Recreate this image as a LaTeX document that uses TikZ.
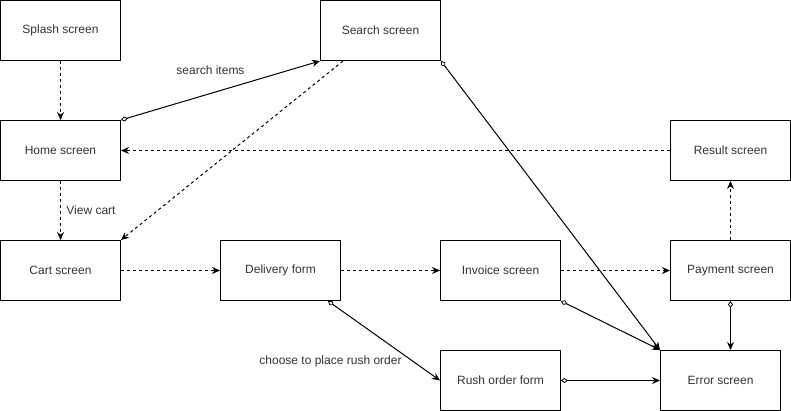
\documentclass[tikz,border=0pt]{standalone}
\usepackage{fontspec}
\setmainfont{Liberation Sans}
\usetikzlibrary{arrows.meta}
\begin{document}
\begin{tikzpicture}[x=1pt,y=-1pt,
  box/.style={draw=black, line width=1pt, minimum width=120pt, minimum height=60pt, inner sep=0pt, font=\fontsize{12pt}{14pt}\selectfont, text=black!80},
  lbl/.style={font=\fontsize{12pt}{14pt}\selectfont, text=black!80, inner sep=0pt},
  dashedflow/.style={line width=1pt, dash pattern=on 3pt off 3pt, -{Stealth[length=8pt,width=7pt]}},
  solidflow/.style={line width=1pt, {Diamond[open,length=7pt,width=5pt,line width=0.8pt]}-{Stealth[length=8pt,width=7pt]}}
]
\useasboundingbox (0,0) rectangle (791,411);
\node[box] (splash) at (60.5,30.5) {Splash screen};
\node[box] (search) at (380.5,30.5) {Search screen};
\node[box] (home) at (60.5,150.5) {Home screen};
\node[box] (result) at (730.5,150.5) {Result screen};
\node[box] (cart) at (60.5,270.5) {Cart screen};
\node[box] (delivery) at (280.5,270.5) {Delivery form};
\node[box] (invoice) at (500.5,270.5) {Invoice screen};
\node[box] (payment) at (730.5,270.5) {Payment screen};
\node[box] (rush) at (500.5,380.5) {Rush order form};
\node[box] (error) at (720.5,380.5) {Error screen};

\draw[dashedflow] (splash.south) -- (home.north);
\draw[solidflow] (home.north east) -- (search.south west);
\node[lbl] (l1) at (210.5,70.5) {search items};
\draw[dashedflow] ([xshift=23pt]search.south west) -- (cart.north east);
\draw[solidflow] (search.south east) -- (error.north west);
\draw[dashedflow] (result.west) -- (home.east);
\draw[dashedflow] (home.south) -- (cart.north);
\node[lbl] (l2) at (91,210.5) {View cart};
\draw[dashedflow] (cart.east) -- (delivery.west);
\draw[dashedflow] (delivery.east) -- (invoice.west);
\draw[dashedflow] (invoice.east) -- (payment.west);
\draw[dashedflow] (payment.north) -- (result.south);
\draw[solidflow] ([xshift=-13pt]delivery.south east) -- (rush.west);
\node[lbl] (l3) at (330.5,361) {choose to place rush order};
\draw[solidflow] (invoice.south east) -- (error.north west);
\draw[solidflow] (payment.south) -- (error.north -| payment.south);
\draw[solidflow] (rush.east) -- (error.west);
\end{tikzpicture}
\end{document}
